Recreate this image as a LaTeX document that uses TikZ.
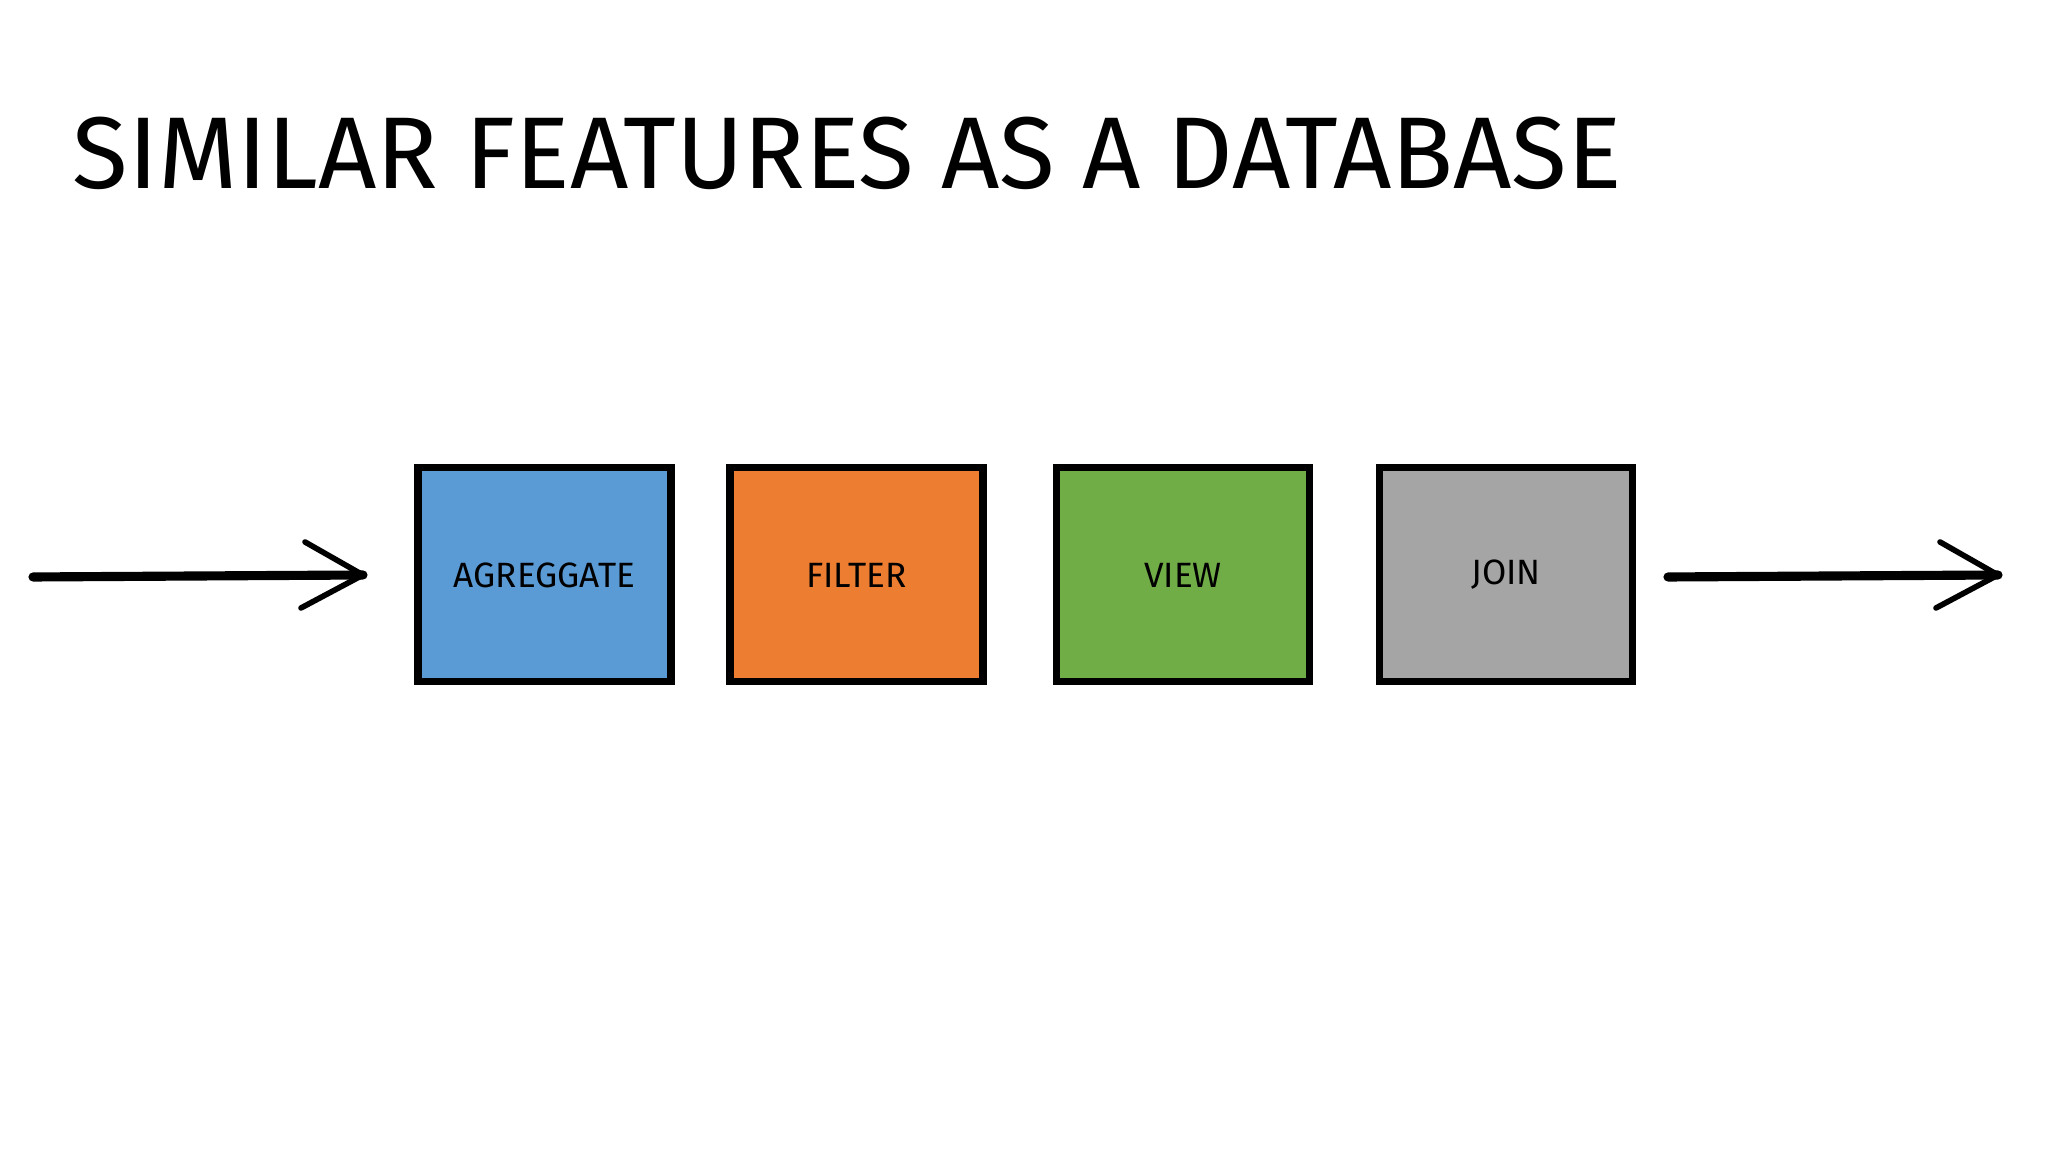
\documentclass[tikz,border=0pt]{standalone}
\usepackage{fontspec}
\setmainfont{Fira Sans}
\tikzset{
 box/.style={draw=black,line width=2pt,minimum width=2.53cm,minimum height=2.14cm,font=\fontsize{10}{12}\selectfont},
 arr/.style={line width=2.6pt,line cap=round},
 head/.style={line width=1.6pt,line cap=round}
}
\begin{document}
\begin{tikzpicture}
\useasboundingbox[fill=white] (0,0) rectangle (20.48,11.52);
\node[anchor=base west,inner sep=0,font=\fontsize{29}{34}\selectfont] (title) at (0.72,9.63) {SIMILAR FEATURES AS A DATABASE};
\node[box,fill={rgb,255:red,91;green,155;blue,213}] (a) at (5.445,5.77) {AGREGGATE};
\node[box,fill={rgb,255:red,237;green,125;blue,49}] (f) at (8.565,5.77) {FILTER};
\node[box,fill={rgb,255:red,112;green,173;blue,71}] (v) at (11.83,5.77) {VIEW};
\node[box,fill={rgb,255:red,165;green,165;blue,165}] (j) at (15.06,5.77) {JOIN};
\coordinate (l0) at (0.33,5.75);
\coordinate (l1) at (3.63,5.77);
\coordinate (r0) at (16.68,5.75);
\coordinate (r1) at (19.98,5.77);
\foreach \s/\e in {l0/l1,r0/r1}{
  \draw[arr] (\s) -- (\e);
  \draw[head] (\e) -- ++(-0.58,0.33);
  \draw[head] (\e) -- ++(-0.62,-0.33);
}
\end{tikzpicture}
\end{document}
